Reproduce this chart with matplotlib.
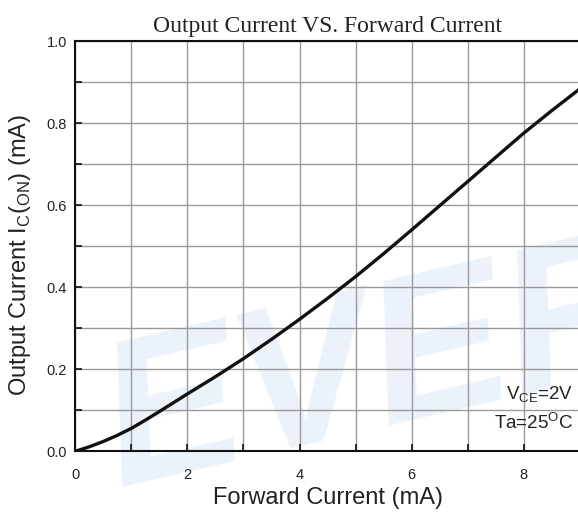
import matplotlib
matplotlib.use("Agg")
import matplotlib.pyplot as plt
from matplotlib.ticker import MultipleLocator

plt.rcParams['font.family'] = ['Liberation Sans', 'DejaVu Sans']
plt.rcParams['mathtext.fontset'] = 'custom'
plt.rcParams['mathtext.rm'] = 'Liberation Sans'

# forward current (mA) vs output current Ic(on) (mA), Vce=2V, Ta=25C
forward_ma = [0, 0.25, 0.5, 0.75, 1, 1.25, 1.5, 2, 2.5, 3, 3.5, 4, 4.5, 5, 5.5,
              6, 6.5, 7, 7.5, 8, 8.5, 9]
output_ma = [0, 0.011, 0.024, 0.039, 0.056, 0.076, 0.097, 0.140, 0.182, 0.226,
             0.273, 0.322, 0.373, 0.426, 0.482, 0.540, 0.599, 0.658, 0.717,
             0.776, 0.831, 0.884]

x_ticks = [0, 2, 4, 6, 8]
y_ticks = [0.0, 0.2, 0.4, 0.6, 0.8, 1.0]

fig = plt.figure(figsize=(5.78, 5.15), dpi=100)
ax = fig.add_axes([75.3 / 578, 63.7 / 515, 504.5 / 578, 410 / 515])
ax.set_zorder(1)
ax.set_facecolor('none')

# faint watermark behind the grid
fig.text(118 / 578, 28 / 515, "EVER", fontsize=148, fontweight='bold', style='italic',
         color='#ebf2f9', rotation=13, rotation_mode='anchor', ha='left', va='baseline',
         zorder=0)

ax.plot(forward_ma, output_ma, color='#111111', linewidth=2.4, zorder=3,
        solid_capstyle='butt', solid_joinstyle='round')

ax.set_xlim(0, 9)
ax.set_ylim(0, 1.0)
ax.set_xticks(x_ticks)
ax.set_yticks(y_ticks)
ax.set_yticklabels([f"{v:.1f}" for v in y_ticks])
ax.xaxis.set_minor_locator(MultipleLocator(1))
ax.yaxis.set_minor_locator(MultipleLocator(0.1))
ax.tick_params(which='both', direction='in', length=5, width=1.2, colors='#111111',
               labelsize=10.5, labelcolor='#222222')
ax.tick_params(axis='x', pad=12)
ax.tick_params(axis='y', pad=6)
ax.grid(True, which='both', color='#999999', linewidth=1.0)
ax.set_axisbelow(True)
for side in ['left', 'bottom', 'top']:
    ax.spines[side].set_linewidth(1.5)
    ax.spines[side].set_color('#111111')
ax.spines['right'].set_visible(False)

ax.set_title("Output Current VS. Forward Current", fontfamily='Liberation Serif',
             fontsize=17, color='#222222', pad=7)
ax.set_xlabel("Forward Current (mA)", fontsize=17, color='#222222')
ax.xaxis.set_label_coords(0.5, -0.088)
ax.set_ylabel(r"Output Current I$_{\rm C}$($_{\rm ON}$) (mA)", fontsize=17,
              color='#222222')
ax.yaxis.set_label_coords(-0.084, 0.48)

ax.text(0.988, 0.125, r"V$_{\rm CE}$=2V", transform=ax.transAxes, ha='right',
        va='baseline', fontsize=13.5, color='#222222')
ax.text(0.988, 0.054, r"Ta=25$^{\rm O}$C", transform=ax.transAxes, ha='right',
        va='baseline', fontsize=13.5, color='#222222')

fig.savefig("out.png", dpi=100)
